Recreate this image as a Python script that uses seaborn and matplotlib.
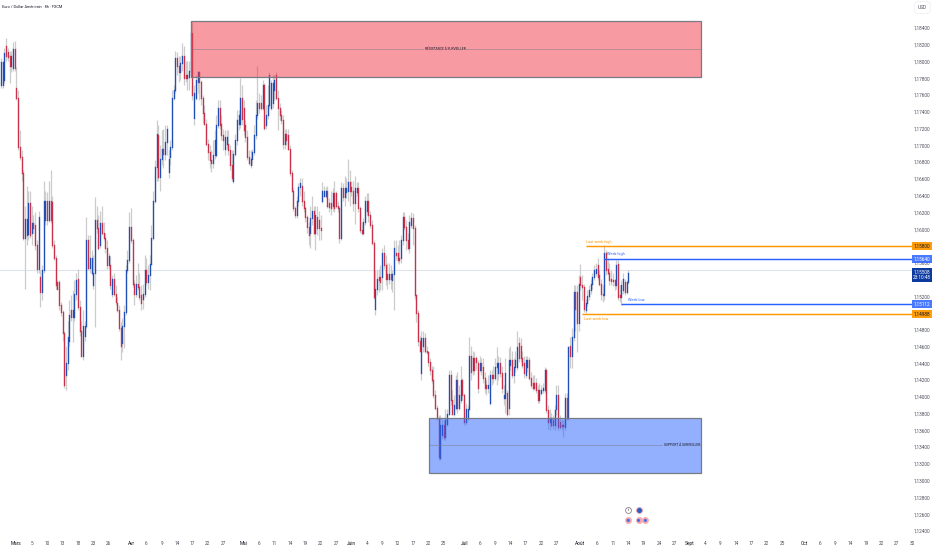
import numpy as np
import pandas as pd
import matplotlib
matplotlib.use("Agg")
import matplotlib.pyplot as plt
from matplotlib.patches import Rectangle
import seaborn as sns

# EUR/USD 8h candles, prices in 1/10000
opens = [
11772,11772,11778,11819,11811,11806,11795,11792,11815,11768,
11756,11698,11686,11667,11589,11593,11594,11631,11595,11607,
11605,11581,11553,11543,11525,11551,11611,11633,11611,11633,
11632,11581,11565,11537,11537,11509,11501,11476,11426,11440,
11467,11503,11495,11495,11523,11540,11507,11479,11449,11473,
11485,11587,11554,11548,11533,11548,11611,11601,11581,11607,
11596,11589,11577,11557,11557,11523,11541,11523,11512,11503,
11482,11464,11485,11501,11551,11563,11602,11587,11535,11523,
11535,11531,11521,11517,11523,11551,11537,11545,11559,11590,
11634,11674,11712,11662,11684,11696,11690,11704,11668,11686,
11698,11756,11766,11804,11795,11787,11798,11807,11784,11780,
11781,11789,11834,11733,11757,11775,11787,11775,11757,11739,
11726,11702,11692,11682,11679,11688,11688,11724,11744,11726,
11712,11696,11702,11702,11694,11676,11658,11690,11706,11726,
11726,11756,11745,11724,11710,11686,11676,11684,11692,11712,
11736,11751,11750,11745,11772,11724,11736,11748,11744,11750,
11766,11784,11756,11745,11736,11730,11702,11714,11712,11696,
11667,11646,11625,11617,11634,11650,11652,11634,11625,11614,
11602,11595,11613,11622,11596,11614,11611,11601,11634,11640,
11640,11646,11631,11631,11628,11643,11643,11628,11625,11590,
11649,11638,11644,11646,11656,11650,11646,11631,11644,11649,
11625,11599,11596,11608,11622,11634,11617,11605,11584,11505,
11529,11543,11543,11543,11571,11557,11547,11541,11547,11539,
11547,11572,11572,11566,11566,11587,11614,11602,11587,11577,
11605,11613,11601,11521,11500,11467,11428,11461,11470,11455,
11453,11441,11432,11420,11402,11387,11375,11327,11354,11366,
11352,11368,11380,11426,11396,11380,11387,11420,11387,11396,
11420,11402,11370,11375,11386,11449,11432,11446,11446,11440,
11432,11440,11435,11423,11414,11410,11393,11426,11426,11423,
11435,11428,11440,11428,11398,11399,11404,11387,11438,11444,
11426,11435,11435,11464,11461,11446,11440,11426,11435,11444,
11423,11416,11416,11416,11408,11396,11405,11408,11408,11432,
11384,11370,11375,11372,11366,11386,11402,11370,11366,11365,
11364,11399,11375,11461,11449,11471,11525,11525,11488,11543,
11533,11531,11503,11512,11520,11527,11535,11543,11548,11557,
11545,11535,11523,11521,11571,11553,11548,11541,11539,11539,
11533,11559,11521,11519,11527,11537,11525,11537]
closes = [
11799,11799,11810,11807,11805,11795,11806,11815,11792,11756,
11698,11686,11667,11589,11612,11612,11631,11593,11607,11601,
11581,11553,11614,11525,11551,11633,11633,11611,11633,11611,
11581,11565,11533,11529,11509,11501,11476,11414,11440,11471,
11497,11495,11503,11523,11539,11507,11479,11449,11485,11485,
11587,11554,11566,11566,11548,11611,11601,11578,11607,11596,
11589,11577,11557,11568,11533,11541,11523,11513,11503,11482,
11461,11485,11501,11551,11563,11602,11587,11535,11523,11535,
11531,11519,11512,11523,11551,11537,11545,11559,11590,11634,
11674,11714,11662,11684,11696,11690,11704,11720,11684,11698,
11756,11766,11804,11795,11787,11798,11807,11780,11780,11784,
11789,11834,11760,11763,11778,11787,11775,11757,11739,11726,
11702,11692,11682,11679,11688,11706,11724,11744,11724,11712,
11706,11710,11710,11694,11676,11661,11690,11706,11730,11736,
11756,11732,11718,11710,11686,11679,11684,11692,11712,11736,
11751,11745,11745,11772,11721,11736,11748,11784,11774,11774,
11778,11756,11745,11736,11730,11702,11714,11706,11696,11667,
11646,11625,11617,11634,11650,11655,11634,11625,11614,11602,
11593,11613,11622,11596,11617,11601,11601,11599,11646,11646,
11646,11628,11626,11625,11643,11625,11628,11625,11590,11649,
11638,11649,11649,11656,11646,11646,11631,11649,11649,11625,
11599,11596,11608,11634,11634,11617,11605,11584,11519,11529,
11541,11539,11537,11572,11557,11541,11541,11547,11541,11547,
11578,11569,11563,11563,11587,11614,11602,11587,11577,11608,
11613,11601,11521,11500,11467,11455,11470,11470,11455,11453,
11441,11432,11420,11402,11387,11375,11328,11366,11366,11352,
11372,11380,11426,11396,11380,11390,11420,11387,11402,11420,
11402,11370,11386,11386,11449,11429,11446,11432,11441,11410,
11440,11432,11423,11410,11410,11414,11426,11422,11422,11435,
11440,11440,11428,11411,11402,11428,11380,11444,11444,11426,
11435,11444,11459,11446,11446,11438,11428,11444,11444,11423,
11414,11411,11411,11408,11396,11408,11408,11410,11432,11384,
11370,11375,11366,11366,11384,11402,11364,11364,11365,11366,
11399,11375,11459,11449,11471,11525,11505,11488,11535,11533,
11531,11505,11512,11520,11527,11535,11543,11551,11553,11543,
11535,11523,11521,11571,11551,11548,11539,11538,11538,11533,
11557,11519,11519,11533,11541,11525,11537,11548]
highs = [
11804,11801,11816,11828,11816,11813,11813,11823,11824,11794,
11766,11718,11694,11670,11628,11652,11646,11646,11628,11617,
11620,11587,11622,11551,11557,11658,11646,11644,11658,11670,
11640,11587,11569,11539,11539,11513,11503,11479,11461,11491,
11515,11521,11527,11539,11548,11553,11515,11491,11503,11491,
11614,11593,11593,11575,11569,11638,11628,11617,11622,11628,
11608,11595,11587,11572,11568,11545,11548,11533,11519,11509,
11489,11494,11509,11557,11575,11620,11625,11590,11539,11545,
11560,11548,11533,11535,11569,11565,11557,11569,11605,11646,
11682,11730,11724,11700,11718,11720,11724,11724,11694,11706,
11766,11772,11813,11811,11807,11807,11822,11819,11801,11801,
11801,11848,11847,11772,11784,11789,11789,11778,11760,11748,
11732,11708,11700,11694,11706,11718,11736,11754,11754,11736,
11720,11718,11718,11718,11700,11694,11694,11714,11742,11742,
11780,11772,11754,11730,11718,11694,11694,11696,11724,11754,
11795,11763,11760,11778,11774,11748,11772,11787,11778,11784,
11784,11787,11766,11751,11742,11736,11720,11720,11720,11700,
11670,11649,11628,11640,11655,11661,11661,11646,11628,11617,
11608,11628,11640,11628,11628,11628,11622,11617,11656,11652,
11650,11652,11637,11646,11649,11658,11646,11634,11628,11656,
11655,11664,11661,11684,11670,11658,11658,11664,11656,11656,
11628,11608,11613,11640,11643,11643,11622,11611,11587,11551,
11551,11553,11557,11578,11581,11569,11560,11560,11557,11551,
11587,11587,11581,11587,11593,11620,11620,11611,11596,11617,
11620,11619,11605,11523,11503,11473,11479,11479,11476,11461,
11455,11446,11437,11437,11408,11390,11378,11378,11374,11372,
11386,11386,11432,11432,11408,11402,11426,11429,11414,11437,
11422,11405,11392,11390,11471,11461,11455,11453,11449,11444,
11449,11446,11446,11429,11420,11426,11432,11432,11437,11446,
11459,11449,11447,11437,11414,11446,11408,11458,11461,11455,
11446,11455,11479,11471,11470,11455,11449,11449,11449,11448,
11429,11426,11426,11422,11414,11417,11414,11416,11435,11434,
11390,11386,11381,11378,11390,11414,11414,11378,11374,11372,
11405,11404,11461,11471,11482,11533,11533,11533,11545,11559,
11545,11535,11517,11527,11533,11541,11548,11557,11560,11565,
11551,11541,11533,11581,11575,11565,11560,11551,11548,11541,
11563,11563,11533,11539,11548,11541,11539,11551]
lows = [
11768,11769,11774,11801,11801,11774,11787,11789,11789,11754,
11694,11682,11658,11587,11529,11581,11587,11589,11581,11596,
11575,11548,11548,11507,11515,11548,11605,11605,11608,11607,
11577,11563,11529,11527,11503,11496,11467,11410,11408,11432,
11461,11491,11465,11491,11515,11503,11473,11447,11444,11467,
11482,11551,11548,11545,11529,11483,11596,11575,11577,11593,
11587,11572,11553,11553,11529,11519,11520,11509,11501,11479,
11444,11453,11458,11497,11548,11560,11583,11531,11509,11519,
11527,11515,11503,11505,11519,11533,11529,11527,11557,11587,
11631,11658,11658,11646,11676,11673,11682,11688,11661,11676,
11694,11754,11763,11784,11775,11778,11789,11772,11775,11766,
11766,11780,11754,11724,11754,11763,11754,11748,11727,11724,
11699,11682,11673,11668,11673,11684,11686,11721,11720,11706,
11694,11688,11696,11688,11670,11658,11655,11687,11700,11718,
11721,11724,11712,11704,11682,11676,11673,11676,11688,11708,
11732,11739,11742,11742,11718,11720,11732,11744,11742,11744,
11754,11754,11718,11730,11725,11696,11696,11700,11694,11664,
11644,11622,11613,11613,11628,11640,11628,11620,11608,11596,
11581,11578,11605,11593,11575,11593,11587,11587,11631,11638,
11637,11625,11620,11617,11622,11620,11625,11620,11584,11587,
11634,11628,11637,11634,11628,11640,11622,11606,11639,11620,
11596,11593,11593,11605,11617,11608,11601,11581,11517,11498,
11521,11525,11527,11527,11553,11533,11529,11535,11529,11525,
11503,11563,11560,11558,11560,11581,11599,11575,11575,11572,
11601,11581,11517,11489,11461,11453,11420,11453,11452,11451,
11437,11426,11417,11398,11384,11372,11324,11324,11350,11348,
11348,11365,11378,11390,11378,11377,11384,11381,11384,11393,
11396,11366,11366,11372,11384,11420,11426,11427,11432,11405,
11429,11426,11417,11405,11402,11405,11390,11414,11417,11420,
11414,11420,11424,11405,11390,11381,11377,11378,11432,11422,
11417,11429,11432,11441,11441,11434,11422,11422,11429,11420,
11411,11408,11408,11405,11393,11393,11402,11404,11405,11381,
11362,11360,11364,11362,11360,11378,11360,11362,11360,11352,
11360,11372,11372,11434,11434,11467,11479,11453,11479,11527,
11515,11501,11500,11508,11515,11523,11529,11539,11544,11539,
11532,11515,11513,11515,11545,11545,11533,11533,11532,11527,
11529,11515,11513,11510,11523,11522,11523,11535]

date_ticks = [9,18,27,36,45,54,63,76,85,94,103,112,121,130,142,151,160,169,178,187,196,
              205,214,223,232,241,250,259,271,280,289,298,307,316,325,339,349,358,367,376,385,394,
              403,412,421,430,439,448,457,470,479,488,497,506,515,524,533]
date_labels = ["Mars","5","10","13","18","23","26","Avr","6","9","14","17","22","27",
               "Mai","6","11","14","19","22","27","Juin","4","9","12","17","22","25",
               "Juil","6","9","14","17","22","27","Août","6","11","14","19","24","27",
               "Sept","4","9","14","17","22","25","Oct","6","9","14","19","22","27","30"]
month_labels = ["Mars","Avr","Mai","Juin","Juil","Août","Sept","Oct"]
price_ticks = [1.184,1.182,1.180,1.178,1.176,1.174,1.172,1.170,1.168,1.166,1.164,1.162,1.160,
               1.156,1.152,1.148,1.146,1.144,1.142,1.140,1.138,1.136,1.134,1.132,1.130,1.128,
               1.126,1.124]

resist_zone = (111, 409.4, 1.1781, 1.1848, 1.1815)
support_zone = (250.3, 409.4, 1.1309, 1.1375, 1.1342)
last_price = 1.15508
levels = [
    ("Last week high", 1.15800, 342, "#FF9800", "1,15800", 342.5, 1.1585, "#131722"),
    ("Week high",      1.15640, 353, "#2962FF", "1,15640", 354.5, 1.1570, "white"),
    ("Week low",       1.15108, 363, "#2962FF", "1,15112", 367, 1.15155, "white"),
    ("Last week low",  1.14988, 340, "#FF9800", "1,14988", 341, 1.1493, "#131722"),
]
event_bars_top = [367, 373]
event_bars_low = [367, 373, 377]

sns.set_theme(style="white")
plt.rcParams["font.family"] = ["Roboto", "DejaVu Sans"]
TINY = 3.4

fig = plt.figure(figsize=(9.32, 5.5), dpi=100, facecolor="white")
ax = fig.add_axes([0, 13 / 550, 912 / 932, 537 / 550])

o, c, h, l = [np.array(a) / 1e4 for a in (opens, closes, highs, lows)]
bars = np.arange(len(c))

wicks = pd.DataFrame({"bar": np.repeat(bars, 2),
                      "price": np.column_stack([l, h]).ravel()})
bodies = pd.DataFrame({"bar": np.repeat(bars, 2),
                       "price": np.column_stack([o, c]).ravel(),
                       "dir": np.repeat(np.where(c >= o, "up", "down"), 2)})
sns.lineplot(data=wicks, x="bar", y="price", units="bar", estimator=None, sort=False,
             color="#cccccc", lw=0.9, ax=ax, zorder=1, legend=False, solid_capstyle="butt")
sns.lineplot(data=bodies, x="bar", y="price", units="bar", hue="dir", estimator=None, sort=False,
             palette={"up": "#1f4fb5", "down": "#c9304a"}, lw=0.95, ax=ax, zorder=2,
             legend=False, solid_capstyle="projecting")

ax.set_xlim(-0.585, 532.75)
ax.set_ylim(1.12327, 1.18734)
ax.set_xlabel("")
ax.set_ylabel("")
for s in ax.spines.values():
    s.set_visible(False)

ax.axhline(last_price, color="#dfe3ec", lw=0.8, zorder=0.5)

zones = [
    (resist_zone, (242/255, 54/255, 69/255, 0.5), "RÉSISTANCE À SURVEILLER", 260, "center", (0.97, 0.6, 0.64)),
    (support_zone, (41/255, 98/255, 255/255, 0.5), "SUPPORT À SURVEILLER", 408.9, "right", (0.58, 0.69, 0.99)),
]
for (x0, x1, y0, y1, ym), col, label, tpos, ha, back in zones:
    ax.add_patch(Rectangle((x0, y0), x1 - x0, y1 - y0, facecolor=col,
                           edgecolor="#787b86", lw=0.9, zorder=3))
    ax.plot([x0, x1], [ym, ym], color="#787b86", alpha=0.55, lw=0.6, zorder=3.1)
    ax.text(tpos, ym, label, ha=ha, va="center", fontsize=2.35, color="#131722",
            zorder=3.3, bbox=dict(facecolor=back, edgecolor="none", pad=0.4))

for name, price, start, col, tag, tx, ty, tagcol in levels:
    ax.plot([start, 532.75], [price, price], color=col, lw=1.05, zorder=4, solid_capstyle="butt")
    ax.text(tx, ty, name, color=col, fontsize=2.8, ha="left", va="center", zorder=5)
    ax.text(922 / 912, price, tag, transform=ax.get_yaxis_transform(), ha="center", va="center",
            fontsize=TINY, color=tagcol, zorder=6, clip_on=False,
            bbox=dict(facecolor=col, edgecolor="none", pad=1.0, alpha=0.95 if col == "#FF9800" else 0.85))

ax.text(922 / 912, 1.15453, "1,15508\n23:10:48", transform=ax.get_yaxis_transform(), ha="center",
        va="center", fontsize=TINY, color="white", linespacing=1.1, zorder=6, clip_on=False,
        bbox=dict(facecolor="#0d3a9f", edgecolor="none", pad=1.0))

ax.set_xticks(date_ticks)
ax.set_xticklabels(date_labels)
ax.set_yticks(price_ticks)
ax.set_yticklabels([f"{p:.5f}".replace(".", ",") for p in price_ticks])
ax.yaxis.tick_right()
ax.tick_params(axis="y", length=0, pad=1.2, labelsize=TINY, labelcolor="#4a4e5a")
ax.tick_params(axis="x", length=0, pad=3.0, labelsize=TINY, labelcolor="#4a4e5a")
for t in ax.get_xticklabels():
    if t.get_text() in month_labels:
        t.set_color("#131722")

# event markers along the time axis
top_y = [1.12655] * len(event_bars_top)
low_y = [1.12525] * len(event_bars_low)
ax.scatter(event_bars_top[:1], top_y[:1], s=18, facecolor="white", edgecolor="#8a7f90", lw=0.6, zorder=7)
ax.scatter(event_bars_top[1:], top_y[1:], s=18, facecolor="#2f5fc4", edgecolor="#f0a0a8", lw=0.6, zorder=7)
ax.scatter(event_bars_low, low_y, s=20, facecolor="#f7a6ac", edgecolor="#f7a6ac", lw=0.4, zorder=7)
ax.scatter(event_bars_low, low_y, s=5, facecolor="#3f6fe8", edgecolor="none", zorder=8)
ax.text(367, 1.12655, "i", fontsize=3, color="#131722", ha="center", va="center", zorder=9)

fig.text(2.5 / 932, 1 - 7 / 550, "Euro / Dollar Américain · 8h · FXCM", fontsize=2.75,
         color="#131722", ha="left", va="center")
fig.text(922.5 / 932, 1 - 7.5 / 550, "USD", fontsize=TINY, color="#4a4e5a", ha="center", va="center",
         bbox=dict(facecolor="white", edgecolor="#ecedf0", lw=0.5, boxstyle="round,pad=0.7"))

fig.savefig("out.png", dpi=100, facecolor="white")
